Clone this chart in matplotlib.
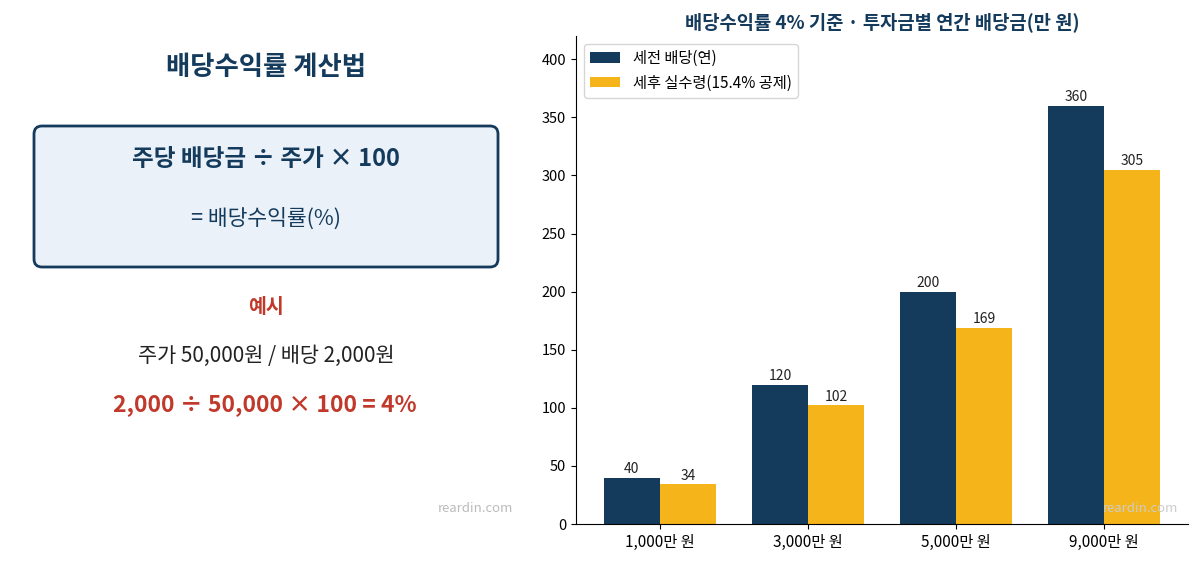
import matplotlib
matplotlib.use("Agg")
import matplotlib.pyplot as plt
import numpy as np
from matplotlib.patches import FancyBboxPatch

plt.rcParams['font.family'] = ['Noto Sans CJK KR', 'DejaVu Sans']

# 데이터
categories = ['1,000만 원', '3,000만 원', '5,000만 원', '9,000만 원']
pre_tax = [40, 120, 200, 360]
after_tax = [34, 102, 169, 305]
series_names = ['세전 배당(연)', '세후 실수령(15.4% 공제)']

navy = '#143A5C'
yellow = '#F5B41A'
red = '#C0392B'

fig = plt.figure(figsize=(11.98, 5.61), dpi=100)

# 왼쪽 설명 패널 (픽셀 좌표)
axl = fig.add_axes([0, 0, 540 / 1198, 1])
axl.set_xlim(0, 540)
axl.set_ylim(561, 0)
axl.axis('off')

axl.text(266, 67, '배당수익률 계산법', ha='center', va='center', fontsize=19,
         fontweight='bold', color=navy)
box = FancyBboxPatch((34, 126), 464, 141, boxstyle='round,pad=0,rounding_size=8',
                     facecolor='#EAF1F8', edgecolor=navy, linewidth=2)
axl.add_patch(box)
axl.text(266, 159, '주당 배당금 ÷ 주가 × 100', ha='center', va='center', fontsize=17,
         fontweight='bold', color=navy)
axl.text(266, 219, '= 배당수익률(%)', ha='center', va='center', fontsize=15.5,
         color=navy)
axl.text(266, 307, '예시', ha='center', va='center', fontsize=14,
         fontweight='bold', color=red)
axl.text(266, 356, '주가 50,000원 / 배당 2,000원', ha='center', va='center',
         fontsize=15, color='#222222')
axl.text(265, 405, '2,000 ÷ 50,000 × 100 = 4%', ha='center', va='center',
         fontsize=16.5, fontweight='bold', color=red)
axl.text(475, 508, 'reardin.com', ha='center', va='center', fontsize=9.5,
         color='#BBBBBB')

# 오른쪽 막대 그래프
ax = fig.add_axes([576 / 1198, 37 / 561, 612 / 1198, 488 / 561])
x = np.arange(len(categories))
w = 0.38
b1 = ax.bar(x - w / 2, pre_tax, w, color=navy, label=series_names[0])
b2 = ax.bar(x + w / 2, after_tax, w, color=yellow, label=series_names[1])
ax.bar_label(b1, padding=1, fontsize=10, color='#222222')
ax.bar_label(b2, padding=1, fontsize=10, color='#222222')

ax.set_xticks(x)
ax.set_xticklabels(categories, fontsize=11)
ax.tick_params(axis='y', labelsize=10.5)
ax.set_ylim(0, 420)
ax.spines['top'].set_visible(False)
ax.spines['right'].set_visible(False)
ax.set_title('배당수익률 4% 기준 · 투자금별 연간 배당금(만 원)', fontsize=13.5,
             fontweight='bold', color=navy, pad=6)
ax.legend(loc='upper left', fontsize=11)

fig.text(1140 / 1198, 1 - 508 / 561, 'reardin.com', ha='center', va='center',
         fontsize=9.5, color='#CCCCCC')

fig.savefig('out.png', dpi=100)
